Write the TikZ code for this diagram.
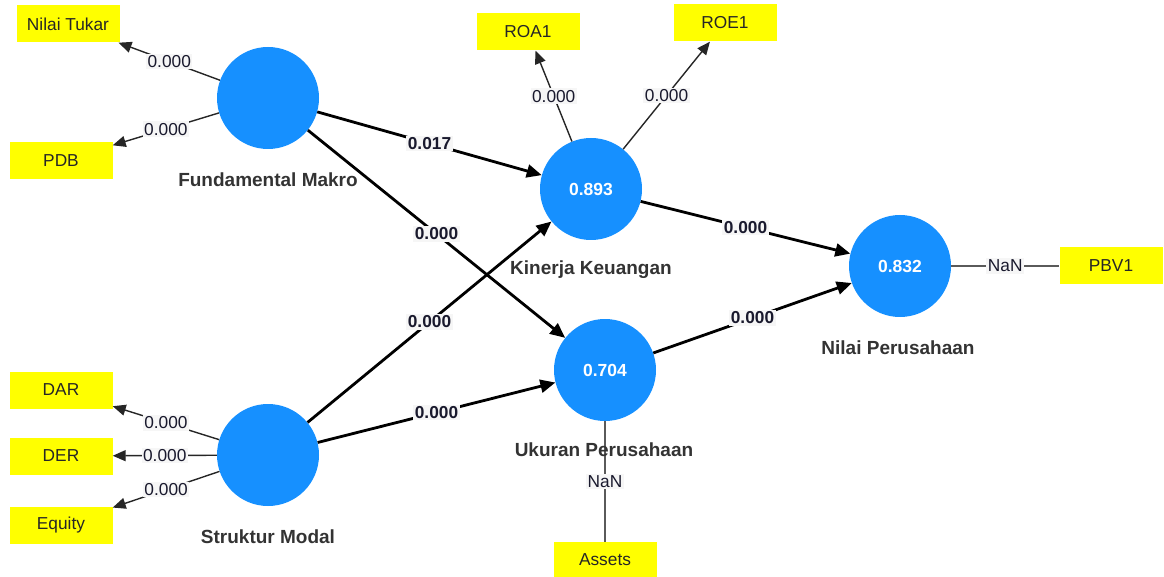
\documentclass[tikz,border=0pt]{standalone}
\usepackage{fontspec}
\setmainfont{Liberation Sans}
\usetikzlibrary{arrows.meta}
\definecolor{circblue}{RGB}{22,144,255}
\definecolor{boxyellow}{RGB}{255,255,0}
\definecolor{lblgray}{RGB}{246,246,246}
\definecolor{linegray}{RGB}{90,90,90}
\definecolor{txtdark}{RGB}{25,25,45}
\tikzset{
  latent/.style={circle, fill=circblue, minimum size=102pt, inner sep=0pt, text=white, font=\fontsize{17.5}{20}\selectfont\bfseries},
  indicator/.style={rectangle, fill=boxyellow, minimum width=103pt, minimum height=37pt, inner sep=0pt, font=\fontsize{17.3}{20}\selectfont, text=black!85},
  lvname/.style={font=\fontsize{19}{22}\selectfont\bfseries, text=black!80, inner sep=0pt},
  outer/.style={line width=1.4pt, draw=black!85, -{Triangle[length=13pt,width=11pt]}},
  inner/.style={line width=2.8pt, draw=black, -{Triangle[length=15pt,width=13pt]}},
  nanline/.style={line width=1.4pt, draw=linegray},
  olbl/.style={fill=lblgray, inner sep=1.5pt, font=\fontsize{17.3}{20}\selectfont, text=txtdark},
  ilbl/.style={fill=lblgray, inner sep=1.5pt, font=\fontsize{17.3}{20}\selectfont\bfseries, text=txtdark},
}
\begin{document}
\begin{tikzpicture}[x=1pt,y=-1pt]
\useasboundingbox (0,0) rectangle (1164,577);
% latent variables
\node[latent] (fm) at (268,98) {};
\node[latent] (sm) at (268,455) {};
\node[latent] (kk) at (591,189) {0.893};
\node[latent] (up) at (605,370) {0.704};
\node[latent] (np) at (900,266) {0.832};
% indicators
\node[indicator] (nt) at (68,24) {Nilai Tukar};
\node[indicator] (pdb) at (61,161) {PDB};
\node[indicator] (roa) at (528,32) {ROA1};
\node[indicator] (roe) at (725,23) {ROE1};
\node[indicator] (pbv) at (1111,266) {PBV1};
\node[indicator] (dar) at (61,390) {DAR};
\node[indicator] (der) at (61,456) {DER};
\node[indicator] (eq) at (61,525) {Equity};
\node[indicator, minimum height=36pt] (as) at (605,560) {Assets};
% structural paths
\draw[inner] (fm) -- node[ilbl] {0.017} (kk);
\draw[inner] (fm) -- node[ilbl] {0.000} (up);
\draw[inner] (sm) -- node[ilbl] {0.000} (kk);
\draw[inner] (sm) -- node[ilbl] {0.000} (up);
\draw[inner] (kk) -- node[ilbl] {0.000} (np);
\draw[inner] (up) -- node[ilbl] {0.000} (np);
% outer model
\draw[outer] (fm) -- node[olbl] {0.000} (nt);
\draw[outer] (fm) -- node[olbl] {0.000} (pdb);
\draw[outer] (kk) -- node[olbl] {0.000} (roa);
\draw[outer] (kk) -- node[olbl] {0.000} (roe);
\draw[outer] (sm) -- node[olbl] {0.000} (dar);
\draw[outer] (sm) -- node[olbl] {0.000} (der);
\draw[outer] (sm) -- node[olbl] {0.000} (eq);
\draw[nanline] (np) -- node[olbl] {NaN} (pbv);
\draw[nanline] (up) -- node[olbl] {NaN} (as);
% names
\node[lvname] (fmL) at (268,180) {Fundamental Makro};
\node[lvname] (kkL) at (591,270) {Kinerja Keuangan};
\node[lvname] (npL) at (898,348) {Nilai Perusahaan};
\node[lvname] (upL) at (604,450) {Ukuran Perusahaan};
\node[lvname] (smL) at (268,537) {Struktur Modal};
\end{tikzpicture}
\end{document}
